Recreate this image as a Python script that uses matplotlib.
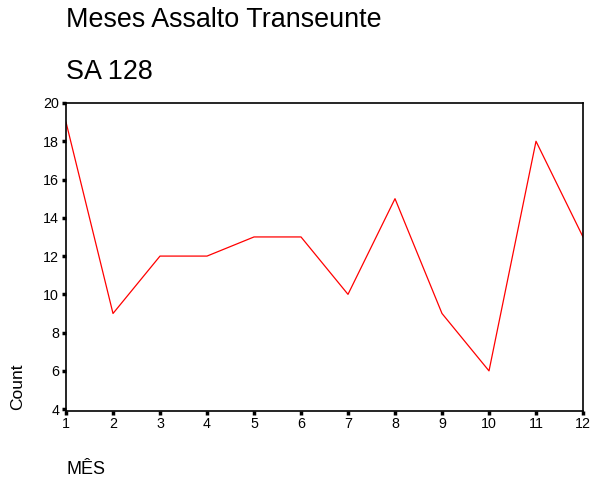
import matplotlib
matplotlib.use("Agg")
import matplotlib.pyplot as plt

plt.rcParams['font.family'] = ['Liberation Sans', 'DejaVu Sans']

# month number and count of occurrences
meses = [1, 2, 3, 4, 5, 6, 7, 8, 9, 10, 11, 12]
contagem = [19, 9, 12, 12, 13, 13, 10, 15, 9, 6, 18, 13]
yticks = [4, 6, 8, 10, 12, 14, 16, 18, 20]

fig = plt.figure(figsize=(5.92, 4.86), dpi=100)
ax = fig.add_axes([66 / 592, 1 - 410.5 / 486, (583 - 66) / 592, (410.5 - 103) / 486])

ax.plot(meses, contagem, color='#ff0000', linewidth=0.9)

ax.set_xlim(1, 12)
ax.set_ylim(3.93, 20)
ax.set_xticks(meses)
ax.set_yticks(yticks)
ax.tick_params(axis='both', direction='out', length=3, width=2.5, labelsize=10.3, pad=2)

for spine in ax.spines.values():
    spine.set_linewidth(1.2)

# titles and axis labels
fig.text(66 / 592, 1 - 20 / 486, "Meses Assalto Transeunte", fontsize=19.4, va='center', ha='left')
fig.text(66 / 592, 1 - 72 / 486, "SA 128", fontsize=19.4, va='center', ha='left')
fig.text(18 / 592, 1 - 387 / 486, "Count", fontsize=12.5, rotation=90, va='center', ha='center')
fig.text(66 / 592, 1 - 469 / 486, "MÊS", fontsize=13, va='center', ha='left')

fig.savefig("out.png", dpi=100)
